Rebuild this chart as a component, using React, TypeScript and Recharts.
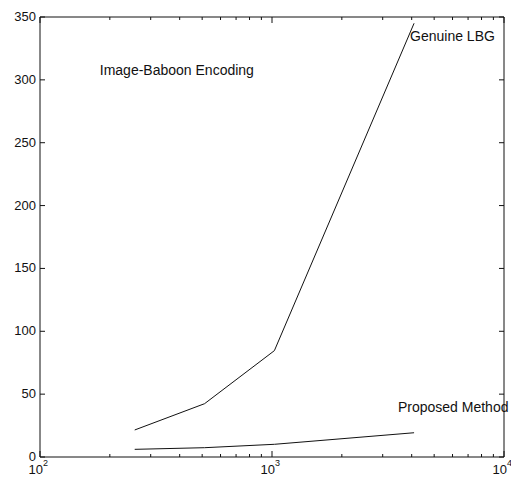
import React from 'react';
import { LineChart, Line, XAxis, YAxis, ReferenceDot } from 'recharts';

const codebookSizes = [256, 512, 1024, 4096];
const genuineLBG = [21.5, 42.4, 84.6, 345];
const proposedMethod = [6.1, 7.4, 10.1, 19.3];

const xMajorTicks = [100, 1000, 10000];
const xMinorTicks = [200, 300, 400, 500, 600, 700, 800, 900, 2000, 3000, 4000, 5000, 6000, 7000, 8000, 9000];
const yTicks = [0, 50, 100, 150, 200, 250, 300, 350];

const xAllTicks = [...xMajorTicks, ...xMinorTicks].sort((a, b) => a - b);

const data = codebookSizes.map((x, i) => ({ x, lbg: genuineLBG[i], prop: proposedMethod[i] }));

const FONT = 'Liberation Sans, Arial, Helvetica, sans-serif';
const INK = '#111';

const BottomTick = (props: any) => {
  const { x, y, payload } = props;
  const v = payload.value;
  const major = xMajorTicks.includes(v);
  const exp = Math.round(Math.log10(v));
  return (
    <g>
      <line x1={x} x2={x} y1={y} y2={y - (major ? 6 : 3)} stroke={INK} strokeWidth={1} />
      {major && (
        <>
          <text x={x + 3} y={y + 17} textAnchor="end" fontSize={13} fontFamily={FONT} fill={INK}>10</text>
          <text x={x + 3} y={y + 9} textAnchor="start" fontSize={9} fontFamily={FONT} fill={INK}>{exp}</text>
        </>
      )}
    </g>
  );
};

const TopTick = (props: any) => {
  const { x, y, payload } = props;
  const major = xMajorTicks.includes(payload.value);
  return <line x1={x} x2={x} y1={y} y2={y + (major ? 6 : 3)} stroke={INK} strokeWidth={1} />;
};

const LeftTick = (props: any) => {
  const { x, y, payload } = props;
  return (
    <g>
      <line x1={x} x2={x + 5} y1={y} y2={y} stroke={INK} strokeWidth={1} />
      <text x={x - 4} y={y} dy={4} textAnchor="end" fontSize={13} fontFamily={FONT} fill={INK}>{payload.value}</text>
    </g>
  );
};

const RightTick = (props: any) => {
  const { x, y } = props;
  return <line x1={x} x2={x - 5} y1={y} y2={y} stroke={INK} strokeWidth={1} />;
};

const labelStyle = { fontSize: 14, fontFamily: FONT, fill: INK };

export default function App() {
  return (
    <LineChart width={511} height={475} data={data} margin={{ top: 8, right: 14, bottom: 0, left: 0 }}>
      <XAxis
        dataKey="x"
        type="number"
        scale="log"
        domain={[100, 10000]}
        allowDataOverflow
        ticks={xAllTicks}
        interval={0}
        tick={<BottomTick />}
        tickLine={false}
        tickSize={0}
        tickMargin={0}
        height={26}
        axisLine={{ stroke: INK }}
      />
      <XAxis
        xAxisId="top"
        orientation="top"
        dataKey="x"
        type="number"
        scale="log"
        domain={[100, 10000]}
        allowDataOverflow
        ticks={xAllTicks}
        interval={0}
        tick={<TopTick />}
        tickLine={false}
        tickSize={0}
        tickMargin={0}
        height={1}
        axisLine={{ stroke: INK }}
      />
      <YAxis
        type="number"
        domain={[0, 350]}
        ticks={yTicks}
        interval={0}
        tick={<LeftTick />}
        tickLine={false}
        tickSize={0}
        tickMargin={0}
        width={32}
        axisLine={{ stroke: INK }}
      />
      <YAxis
        yAxisId="right"
        orientation="right"
        type="number"
        domain={[0, 350]}
        ticks={yTicks}
        interval={0}
        tick={<RightTick />}
        tickLine={false}
        tickSize={0}
        tickMargin={0}
        width={1}
        axisLine={{ stroke: INK }}
      />
      <Line dataKey="lbg" stroke={INK} strokeWidth={1} dot={false} isAnimationActive={false} />
      <Line dataKey="prop" stroke={INK} strokeWidth={1} dot={false} isAnimationActive={false} />
      <Line dataKey="prop" xAxisId="top" yAxisId="right" stroke="none" dot={false} activeDot={false}
        legendType="none" isAnimationActive={false} />
      <ReferenceDot x={181} y={308} r={0} fill="none" stroke="none" ifOverflow="visible"
        label={{ value: 'Image-Baboon Encoding', position: 'right', offset: 0, ...labelStyle }} />
      <ReferenceDot x={3936} y={335} r={0} fill="none" stroke="none" ifOverflow="visible"
        label={{ value: 'Genuine LBG', position: 'right', offset: 0, ...labelStyle }} />
      <ReferenceDot x={3491} y={39.8} r={0} fill="none" stroke="none" ifOverflow="visible"
        label={{ value: 'Proposed Method', position: 'right', offset: 0, ...labelStyle }} />
    </LineChart>
  );
}
